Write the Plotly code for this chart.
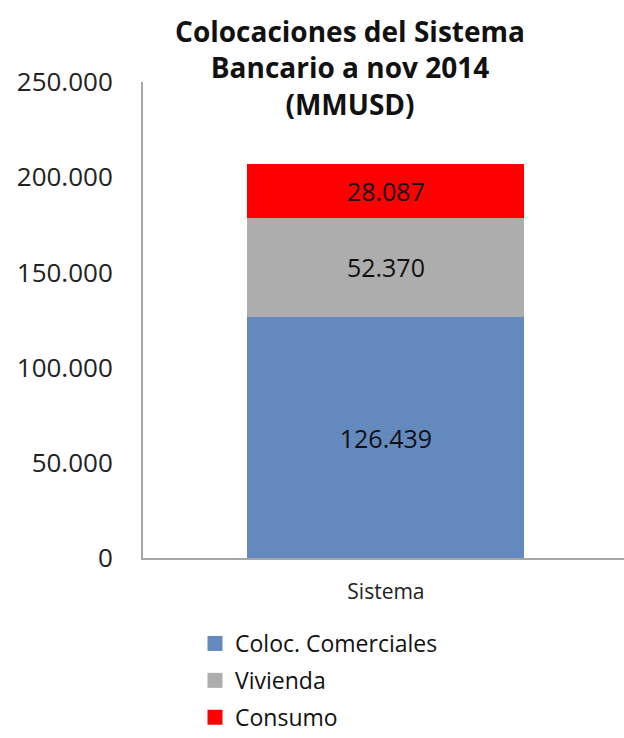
import plotly.graph_objects as go

categories = ["Sistema"]
series_names = ["Coloc. Comerciales", "Vivienda", "Consumo"]
comerciales = [126439]
vivienda = [52370]
consumo = [28087]
series_values = [comerciales, vivienda, consumo]
colors = ["#6389BE", "#ADADAD", "#FF0000"]
y_ticks = [0, 50000, 100000, 150000, 200000, 250000]

FONT = "Open Sans"

fig = go.Figure()
for i, (name, vals, col) in enumerate(zip(series_names, series_values, colors)):
    fig.add_trace(go.Bar(
        x=categories, y=vals, name=name, marker=dict(color=col, line=dict(width=0)),
        width=0.57, texttemplate="%{y:,.0f}", textposition="inside",
        insidetextanchor="middle", constraintext="none",
        textfont=dict(family=FONT, size=25, color="#111111"),
        showlegend=False, hoverinfo="skip",
    ))
    fig.add_trace(go.Scatter(
        x=[None], y=[None], mode="markers", name=name,
        marker=dict(symbol="square", size=15, color=col),
        legendgroup=name, showlegend=True, hoverinfo="skip",
    ))

fig.update_layout(
    width=624, height=738,
    margin=dict(l=143, r=0, t=82, b=180, autoexpand=False),
    paper_bgcolor="white", plot_bgcolor="white",
    barmode="stack", separators=",.",
    title=dict(
        text="<b>Colocaciones del Sistema<br>Bancario a nov 2014<br>(MMUSD)</b>",
        x=350 / 624, xref="container", xanchor="center",
        y=1 - 42 / 738, yref="container", yanchor="middle",
        font=dict(family=FONT, size=28, color="#111111"),
    ),
    xaxis=dict(
        type="category", range=[-0.5, 0.49], showgrid=False,
        showline=True, linecolor="#A6A6A6", linewidth=2,
        ticks="", ticklabelstandoff=14,
        tickfont=dict(family=FONT, size=21, color="#222222"),
        fixedrange=True,
    ),
    yaxis=dict(
        range=[0, 250000], tickvals=y_ticks, tickformat=",.0f",
        showgrid=False, zeroline=False,
        showline=True, linecolor="#A6A6A6", linewidth=2,
        ticks="", ticklabelstandoff=23,
        tickfont=dict(family=FONT, size=26, color="#222222"),
        fixedrange=True,
    ),
    legend=dict(
        x=(195 - 143) / 481, xanchor="left", y=(558 - 622) / 476, yanchor="top",
        orientation="v", traceorder="grouped", tracegroupgap=4,
        font=dict(family=FONT, size=23, color="#111111"),
        itemwidth=30, bgcolor="rgba(0,0,0,0)",
    ),
    hovermode=False,
)

fig.write_html(
    "out.html",
    config=dict(displayModeBar=False),
    post_script="document.body.style.margin='0';document.body.style.overflow='hidden';",
)
